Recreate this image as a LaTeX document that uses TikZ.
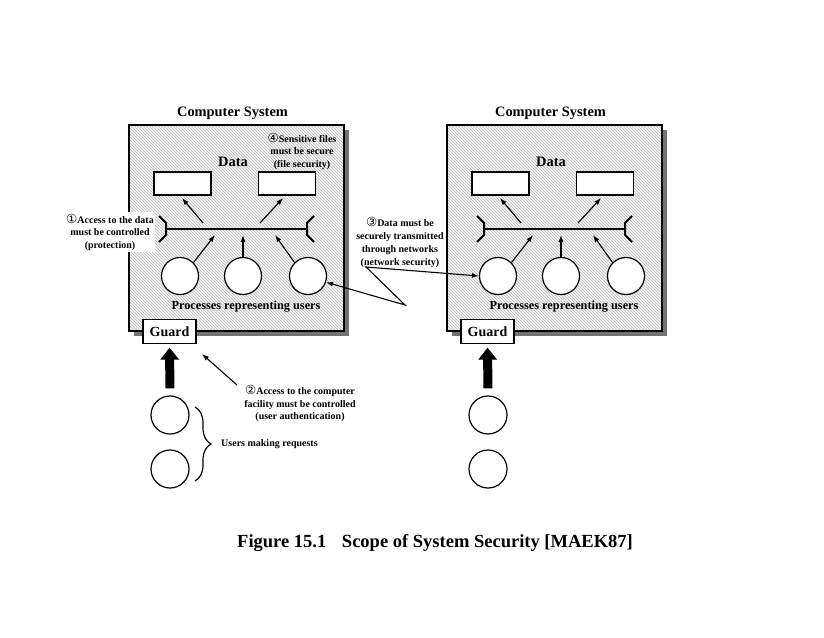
\documentclass[tikz,border=0pt]{standalone}
\usepackage{fontspec}
\setmainfont{Liberation Serif}
\newfontfamily\circf{DejaVu Sans}
\usetikzlibrary{arrows.meta,patterns,decorations.pathreplacing}
\newcommand{\cnum}[1]{{\circf\mdseries\fontsize{12.5}{12.5}\selectfont #1}}
\begin{document}
\begin{tikzpicture}[x=1pt,y=-1pt,
  arr/.style={line width=1.1pt,-{Latex[length=7pt,width=5pt]}},
  tipL/.style={line width=1.1pt,{Latex[length=7pt,width=5pt]}-{Latex[length=7pt,width=5pt]}},
  databox/.style={draw,line width=1.2pt,fill=white,minimum width=57pt,minimum height=23pt,inner sep=0pt},
  proc/.style={draw,line width=1.2pt,circle,fill=white,minimum size=37pt,inner sep=0pt},
  user/.style={draw,line width=1.2pt,circle,fill=white,minimum size=38pt,inner sep=0pt},
  guardbox/.style={draw,line width=1.2pt,fill=white,minimum width=53pt,minimum height=24pt,inner sep=0pt,font=\fontsize{14}{16}\selectfont\bfseries},
  ttl/.style={font=\fontsize{14.4}{16}\selectfont\bfseries,inner sep=0pt},
  lbl/.style={font=\fontsize{10}{12.5}\selectfont\bfseries,align=center,inner sep=0pt},
  bigarr/.style={line width=9pt,-{Triangle[length=12pt,width=18pt]}},
  bus/.style={line width=2pt,line join=miter},
  sysframe/.style={draw=none,minimum width=215pt,minimum height=206pt,inner sep=0pt},
]
\useasboundingbox (0,0) rectangle (824,637);

\foreach \s/\dx in {L/0,R/318}{
  \node[sysframe] (box\s) at (236.5+\dx,228) {};
  \fill[black!55] ([shift={(5,5)}]box\s.north west) rectangle ([shift={(5,5)}]box\s.south east);
  \fill[gray!8] (box\s.north west) rectangle (box\s.south east);
  \fill[pattern=north west lines,pattern color=gray!55] (box\s.north west) rectangle (box\s.south east);
  \draw[line width=2pt] (box\s.north west) rectangle (box\s.south east);

  \node[ttl] (ttl\s) at (232.5+\dx,113) {Computer System};
  \node[ttl] (dat\s) at (233+\dx,162) {Data};
  \node[databox] (dA\s) at (182.5+\dx,183.5) {};
  \node[databox] (dB\s) at (287+\dx,183.5) {};

  \coordinate (busA\s) at (166+\dx,229);
  \coordinate (busB\s) at (307+\dx,229);
  \draw[bus] (busA\s) -- (busB\s);
  \draw[bus] ([shift={(-7,-13)}]busA\s) -- ([shift={(0,-6)}]busA\s) -- ([shift={(0,6)}]busA\s) -- ([shift={(-7,13)}]busA\s);
  \draw[bus] ([shift={(7,-13)}]busB\s) -- ([shift={(0,-6)}]busB\s) -- ([shift={(0,6)}]busB\s) -- ([shift={(7,13)}]busB\s);

  \node[proc] (pA\s) at (180+\dx,276) {};
  \node[proc] (pB\s) at (243+\dx,276) {};
  \node[proc] (pC\s) at (308+\dx,276) {};

  \coordinate (bA\s) at (215+\dx,235);
  \coordinate (bB\s) at (243+\dx,235);
  \coordinate (bC\s) at (275+\dx,235);
  \draw[arr] (pA\s.north east) -- (bA\s);
  \draw[arr] (pB\s.north) -- (bB\s);
  \draw[arr] (pC\s.north west) -- (bC\s);

  \coordinate (uA\s) at (203+\dx,223);
  \coordinate (uB\s) at (260+\dx,223);
  \coordinate (tA\s) at (182+\dx,198);
  \coordinate (tB\s) at (283+\dx,198);
  \draw[arr] (uA\s) -- (tA\s);
  \draw[arr] (uB\s) -- (tB\s);

  \node[font=\fontsize{12.3}{14}\selectfont\bfseries,inner sep=0pt] (pt\s) at (246+\dx,307) {Processes representing users};

  \node[guardbox] (g\s) at (169.5+\dx,331.5) {Guard};
  \node[user] (usrA\s) at (170+\dx,415) {};
  \node[user] (usrB\s) at (170+\dx,469) {};
  \draw[bigarr,shorten <=7pt,shorten >=3.5pt] (usrA\s.north) -- (g\s.south);
}

% label 1
\node[lbl,fill=white,inner xsep=1pt,inner ysep=2pt] (l1) at (110,232) {\cnum{①}Access to the data\\must be controlled\\(protection)};
% label 4
\node[lbl] (l4) at (302,151) {\cnum{④}Sensitive files\\must be secure\\(file security)};
% label 3
\node[lbl,font=\fontsize{10}{13}\selectfont\bfseries] (l3) at (400,242.5) {\cnum{③}Data must be\\securely transmitted\\through networks\\(network security)};
\coordinate (k1) at (366,267);
\coordinate (k2) at (405,305);
\draw[tipL] (pCL.-19) -- (k2) -- (k1) -- (pAR.west);
% label 2
\node[lbl] (l2) at (300,403.5) {\cnum{②}Access to the computer\\facility must be controlled\\(user authentication)};
\coordinate (l2a) at (237,385);
\coordinate (l2b) at (202,354);
\draw[arr] (l2a) -- (l2b);

% users
\coordinate (brA) at (195,407);
\coordinate (brB) at (195,481);
\draw[line width=1.2pt,decorate,decoration={brace,amplitude=16pt}] (brA) -- (brB);
\node[lbl,anchor=west] (usrtxt) at (221,444) {Users making requests};

% caption
\node[font=\fontsize{18.5}{20}\selectfont\bfseries,inner sep=0pt] (cap) at (435,543) {Figure 15.1\hspace{0.85em}Scope of System Security [MAEK87]};
\end{tikzpicture}
\end{document}
